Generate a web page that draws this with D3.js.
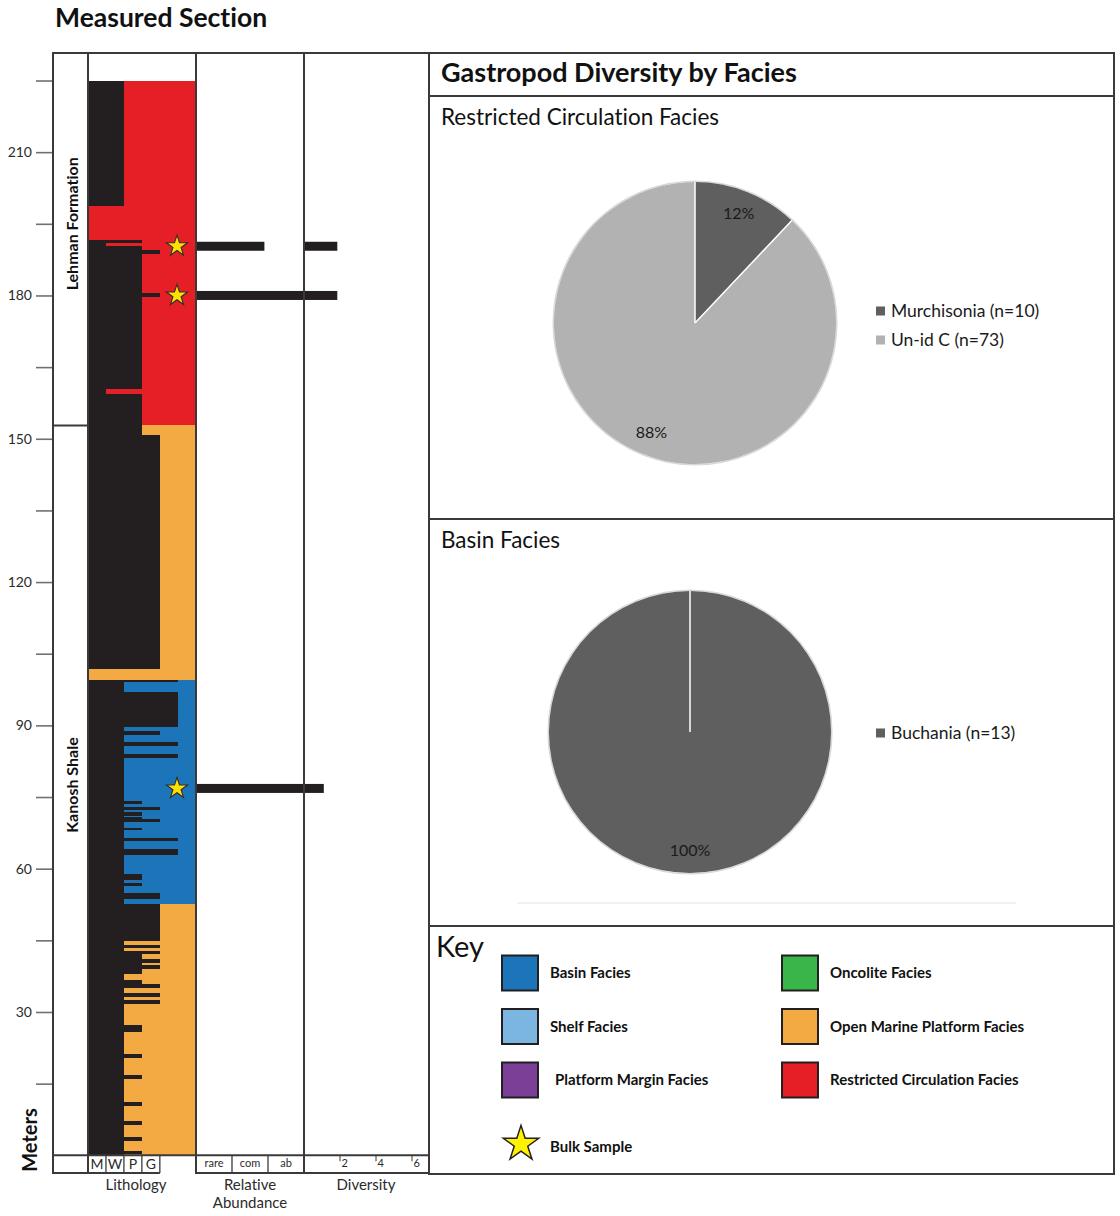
<!DOCTYPE html>
<html>
<head>
<meta charset="utf-8">
<script src="https://cdn.jsdelivr.net/npm/d3@7"></script>
<style>
  body { margin: 0; background: #fff; }
  svg { display: block; }
  text { font-variant-ligatures: none; }
</style>
</head>
<body>
<svg id="chart" width="1120" height="1216"></svg>
<script>
// ---------------- data ----------------
// depth axis (metres)
const depthTicks = d3.range(15, 226, 15);
const depthLabels = [30, 60, 90, 120, 150, 180, 210];

// grain-size columns of the lithology log
const grainLabels = ["M", "W", "P", "G"];
const abundanceLabels = ["rare", "com", "ab"];
const diversityTicks = [2, 4, 6];

// facies legend
const faciesNames = ["Basin Facies", "Shelf Facies", "Platform Margin Facies",
                     "Oncolite Facies", "Open Marine Platform Facies", "Restricted Circulation Facies"];
const faciesColors = ["#1c75b9", "#7ab6e0", "#7b3f97", "#39b54a", "#f4aa42", "#e61e26"];

// facies intervals up the section
const faciesBase = [0, 52.6, 99.5, 152.8];
const faciesTop = [52.6, 99.5, 152.8, 225];
const faciesOf = ["Open Marine Platform Facies", "Basin Facies",
                  "Open Marine Platform Facies", "Restricted Circulation Facies"];

// formations
const formations = ["Kanosh Shale", "Lehman Formation"];
const formationBase = [0, 152.8];
const formationTop = [152.8, 225];

// lithology beds: [base m, top m, texture] (1 M, 2 W, 3 P, 4 G, 5 coarser)
const beds = [
  [0, 0.2, 2], [0.2, 1.0, 3], [1.0, 3.0, 2], [3.0, 3.8, 3], [3.8, 6.3, 2], [6.3, 7.2, 3],
  [7.2, 10.3, 2], [10.3, 11.2, 3], [11.2, 16.0, 2], [16.0, 16.8, 3], [16.8, 20.4, 2],
  [20.4, 21.2, 3], [21.2, 25.8, 2], [25.8, 27.3, 3], [27.3, 31.7, 2], [31.7, 32.5, 4],
  [32.5, 33.2, 2], [33.2, 34.0, 4], [34.0, 35.1, 2], [35.1, 35.9, 4], [35.9, 36.7, 3],
  [36.7, 37.9, 2], [37.9, 39.0, 3], [39.0, 39.8, 4], [39.8, 40.3, 3], [40.3, 41.1, 4],
  [41.1, 42.1, 3], [42.1, 42.8, 4], [42.8, 43.4, 2], [43.4, 44.0, 4], [44.0, 44.9, 2],
  [44.9, 52.6, 4], [52.6, 53.6, 2], [53.6, 54.9, 4], [54.9, 56.4, 2], [56.4, 57.0, 3],
  [57.0, 57.6, 2], [57.6, 58.9, 3], [58.9, 62.9, 2], [62.9, 64.2, 5], [64.2, 65.7, 2],
  [65.7, 66.5, 5], [66.5, 68.0, 2], [68.0, 68.6, 3], [68.6, 69.8, 2], [69.8, 70.5, 4],
  [70.5, 70.8, 3], [70.8, 71.0, 2], [71.0, 71.9, 3], [71.9, 72.3, 2], [72.3, 72.9, 4],
  [72.9, 73.5, 2], [73.5, 74.2, 3], [74.2, 83.2, 2], [83.2, 84.0, 5], [84.0, 85.7, 2],
  [85.7, 86.5, 5], [86.5, 88.0, 2], [88.0, 88.8, 4], [88.8, 89.7, 2], [89.7, 97.0, 5],
  [97.0, 99.1, 2], [99.1, 99.5, 5],
  [101.8, 150.8, 4], [150.8, 159.4, 3], [159.4, 160.4, 1], [160.4, 179.7, 3],
  [179.7, 180.5, 4], [180.5, 188.7, 3], [188.7, 189.5, 4], [189.5, 190.3, 3],
  [190.3, 191.0, 1], [191.0, 191.6, 3], [198.8, 225, 2]
];

// bulk samples: depth, relative abundance (1 rare, 2 com, 3 ab), diversity
const sampleDepth = [190.3, 180.0, 76.8];
const sampleAbundance = [1.9, 3, 3];
const sampleDiversity = [1.85, 1.85, 1.1];

// gastropod counts per facies
const restrictedTaxa = ["Murchisonia (n=10)", "Un-id C (n=73)"];
const restrictedCounts = [10, 73];
const basinTaxa = ["Buchania (n=13)"];
const basinCounts = [13];
const taxonGreys = ["#5f5f5f", "#b2b2b2"];

// ---------------- drawing ----------------
const svg = d3.select("#chart");
const INK = "#231f20";
const FRAME = "#3a3a3a";
const TXT = "#2b2b2b";
const font = "Lato, 'Open Sans', sans-serif";

const y = d3.scaleLinear().domain([0, 225]).range([1155.3, 80.5]);
const xTex = d3.scaleLinear().domain([0, 5]).range([88, 177.8]);
const xAb = d3.scaleLinear().domain([0, 3]).range([196, 304]);
const xDiv = d3.scaleLinear().domain([0, 6]).range([304, 412]);
const faciesColor = d3.scaleOrdinal().domain(faciesNames).range(faciesColors);

svg.append("text").attr("x", 55).attr("y", 27)
  .attr("font-family", font).attr("font-weight", 700).attr("font-size", 26.5)
  .attr("fill", "#111").text("Measured Section");

// facies colour bands behind the log
const sec = svg.append("g");
sec.selectAll("rect.facies").data(faciesOf).join("rect")
  .attr("class", "facies")
  .attr("x", 86.5).attr("width", 196 - 86.5)
  .attr("y", (d, i) => y(faciesTop[i]))
  .attr("height", (d, i) => y(faciesBase[i]) - y(faciesTop[i]))
  .attr("fill", d => faciesColor(d))
  .attr("shape-rendering", "crispEdges");

// lithology beds
sec.selectAll("rect.bed").data(beds).join("rect")
  .attr("class", "bed")
  .attr("x", 87.5).attr("width", d => xTex(d[2]) - 87.5)
  .attr("y", d => y(d[1])).attr("height", d => y(d[0]) - y(d[1]))
  .attr("fill", INK)
  .attr("shape-rendering", "crispEdges");

// relative abundance and diversity bars
sec.selectAll("rect.ab").data(sampleDepth).join("rect")
  .attr("x", xAb(0)).attr("width", (d, i) => xAb(sampleAbundance[i]) - xAb(0))
  .attr("y", d => y(d) - 4.5).attr("height", 9).attr("fill", INK);
sec.selectAll("rect.div").data(sampleDepth).join("rect")
  .attr("x", xDiv(0)).attr("width", (d, i) => xDiv(sampleDiversity[i]) - xDiv(0))
  .attr("y", d => y(d) - 4.5).attr("height", 9).attr("fill", INK);

// sample stars
const starSmall = d3.symbol(d3.symbolStar, 140);
sec.selectAll("path.star").data(sampleDepth).join("path")
  .attr("transform", d => `translate(177,${y(d)})`)
  .attr("d", starSmall).attr("fill", "#ffe100")
  .attr("stroke", "#2e2e2e").attr("stroke-width", 1.1);

// depth axis
const axis = d3.axisLeft(y).tickValues(depthTicks).tickSize(17).tickPadding(4)
  .tickFormat(d => depthLabels.includes(d) ? d : "");
const ax = svg.append("g").attr("transform", "translate(53,0)").call(axis);
ax.select(".domain").remove();
ax.selectAll(".tick line").attr("stroke", "#707070").attr("stroke-width", 1.6);
ax.selectAll(".tick text").attr("font-family", font).attr("font-size", 14).attr("fill", TXT);

// frame of the measured section
const frame = svg.append("g").attr("stroke", FRAME).attr("stroke-width", 2).attr("fill", "none");
[53, 88, 196, 304, 429].forEach(x => frame.append("line").attr("x1", x).attr("x2", x).attr("y1", 53).attr("y2", 1174));
frame.append("line").attr("x1", 52).attr("x2", 430).attr("y1", 53).attr("y2", 53);
frame.append("line").attr("x1", 52).attr("x2", 430).attr("y1", y(0)).attr("y2", y(0));
frame.append("line").attr("x1", 52).attr("x2", xTex(4)).attr("y1", 1173).attr("y2", 1173);
frame.append("line").attr("x1", 196).attr("x2", 430).attr("y1", 1173).attr("y2", 1173);
d3.range(1, 5).forEach(i => frame.append("line").attr("x1", xTex(i)).attr("x2", xTex(i)).attr("y1", y(0)).attr("y2", 1173).attr("stroke-width", 1.3));
[1, 2].forEach(i => frame.append("line").attr("x1", xAb(i)).attr("x2", xAb(i)).attr("y1", y(0)).attr("y2", 1173).attr("stroke-width", 1.3));
// formation boundaries
formationBase.slice(1).forEach(b => frame.append("line").attr("x1", 52).attr("x2", 88).attr("y1", y(b)).attr("y2", y(b)));

// column captions
const cap = svg.append("g").attr("font-family", font).attr("fill", TXT);
cap.selectAll("text.g").data(grainLabels).join("text")
  .attr("x", (d, i) => (xTex(i) + xTex(i + 1)) / 2).attr("y", 1169)
  .attr("text-anchor", "middle").attr("font-size", 14).text(d => d);
cap.selectAll("text.a").data(abundanceLabels).join("text")
  .attr("x", (d, i) => (xAb(i) + xAb(i + 1)) / 2).attr("y", 1167)
  .attr("text-anchor", "middle").attr("font-size", 11).text(d => d);
diversityTicks.forEach(t => {
  cap.append("line").attr("x1", xDiv(t)).attr("x2", xDiv(t)).attr("y1", y(0)).attr("y2", y(0) + 6)
    .attr("stroke", FRAME).attr("stroke-width", 1);
  cap.append("text").attr("x", xDiv(t) + 1.5).attr("y", 1167).attr("font-size", 11).text(t);
});
cap.append("text").attr("x", 136).attr("y", 1190).attr("text-anchor", "middle").attr("font-size", 15).text("Lithology");
cap.append("text").attr("x", 250).attr("y", 1190).attr("text-anchor", "middle").attr("font-size", 15).text("Relative");
cap.append("text").attr("x", 250).attr("y", 1208).attr("text-anchor", "middle").attr("font-size", 15).text("Abundance");
cap.append("text").attr("x", 366).attr("y", 1190).attr("text-anchor", "middle").attr("font-size", 15).text("Diversity");

// rotated labels
const formLabelAt = { "Kanosh Shale": 77.5, "Lehman Formation": 195 };
svg.selectAll("text.form").data(formations).join("text")
  .attr("transform", d => `translate(78,${y(formLabelAt[d])}) rotate(-90)`)
  .attr("text-anchor", "middle").attr("font-family", font).attr("font-weight", 700)
  .attr("font-size", 16).attr("fill", "#111").text(d => d);
svg.append("text").attr("transform", "translate(37,1140) rotate(-90)")
  .attr("text-anchor", "middle").attr("font-family", font).attr("font-weight", 700)
  .attr("font-size", 20).attr("fill", "#111").text("Meters");

// ---------------- right panel ----------------
const rp = svg.append("g").attr("stroke", FRAME).attr("stroke-width", 2).attr("fill", "none");
rp.append("rect").attr("x", 429).attr("y", 53).attr("width", 1114 - 429).attr("height", 1174 - 53);
[96, 519, 926].forEach(v => rp.append("line").attr("x1", 429).attr("x2", 1114).attr("y1", v).attr("y2", v));

svg.append("text").attr("x", 441).attr("y", 82).attr("font-family", font).attr("font-weight", 700)
  .attr("font-size", 27).attr("fill", "#111").text("Gastropod Diversity by Facies");
svg.append("text").attr("x", 441).attr("y", 125).attr("font-family", font)
  .attr("font-size", 22.5).attr("fill", "#111").text("Restricted Circulation Facies");
svg.append("text").attr("x", 441).attr("y", 548).attr("font-family", font)
  .attr("font-size", 22.5).attr("fill", "#111").text("Basin Facies");

// faint baseline under the basin chart area
svg.append("line").attr("x1", 517).attr("x2", 1016).attr("y1", 903).attr("y2", 903)
  .attr("stroke", "#e4e4e4").attr("stroke-width", 1);

function drawPie(cx, cy, counts, taxa, legendY) {
  const R = 141;
  const g = svg.append("g").attr("transform", `translate(${cx},${cy})`);
  const arcs = d3.pie().sort(null).value(d => d)(counts);
  const arc = d3.arc().innerRadius(0).outerRadius(R);
  const labelArc = d3.arc().innerRadius(118).outerRadius(118);
  const total = d3.sum(counts);
  g.append("circle").attr("r", R + 0.8).attr("fill", "none").attr("stroke", "#d8d8d8").attr("stroke-width", 1.5);
  g.selectAll("path.slice").data(arcs).join("path")
    .attr("d", arc).attr("fill", (d, i) => taxonGreys[i]);
  // slice edges
  g.selectAll("line.edge").data(arcs).join("line")
    .attr("x1", 0).attr("y1", 0)
    .attr("x2", d => R * Math.sin(d.startAngle)).attr("y2", d => -R * Math.cos(d.startAngle))
    .attr("stroke", "#fff").attr("stroke-width", 1.5);
  g.selectAll("text.pct").data(arcs).join("text")
    .attr("transform", d => `translate(${labelArc.centroid(d)})`)
    .attr("text-anchor", "middle").attr("dy", "0.35em")
    .attr("font-family", font).attr("font-size", 16).attr("fill", "#1a1a1a")
    .text(d => d3.format(".0%")(d.data / total));
  const lg = svg.append("g").attr("font-family", font).attr("font-size", 17.5).attr("fill", "#1a1a1a");
  taxa.forEach((t, i) => {
    lg.append("rect").attr("x", 876).attr("y", legendY + i * 29 - 4.5).attr("width", 9).attr("height", 9)
      .attr("fill", taxonGreys[i]);
    lg.append("text").attr("x", 891).attr("y", legendY + i * 29).attr("dy", "0.35em").text(t);
  });
}
drawPie(695, 323, restrictedCounts, restrictedTaxa, 311);
drawPie(690, 732, basinCounts, basinTaxa, 733);

// ---------------- key ----------------
svg.append("text").attr("x", 436).attr("y", 957).attr("font-family", font)
  .attr("font-size", 29).attr("fill", "#111").text("Key");
const key = svg.append("g");
faciesNames.forEach((name, i) => {
  const col = Math.floor(i / 3), row = i % 3;
  const sx = col === 0 ? 502 : 782;
  const cy = 973 + row * 53.5;
  key.append("rect").attr("x", sx).attr("y", cy - 17.5).attr("width", 36).attr("height", 35)
    .attr("fill", faciesColor(name)).attr("stroke", INK).attr("stroke-width", 2);
  key.append("text").attr("x", sx + (name === "Platform Margin Facies" ? 53 : 48)).attr("y", cy).attr("dy", "0.35em")
    .attr("font-family", font).attr("font-weight", 700).attr("font-size", 15)
    .attr("fill", "#111").text(name);
});
key.append("path").attr("transform", "translate(521,1144)")
  .attr("d", d3.symbol(d3.symbolStar, 390)).attr("fill", "#fff200")
  .attr("stroke", INK).attr("stroke-width", 1.5);
key.append("text").attr("x", 550).attr("y", 1147).attr("dy", "0.35em")
  .attr("font-family", font).attr("font-weight", 700).attr("font-size", 15)
  .attr("fill", "#111").text("Bulk Sample");
</script>
</body>
</html>
